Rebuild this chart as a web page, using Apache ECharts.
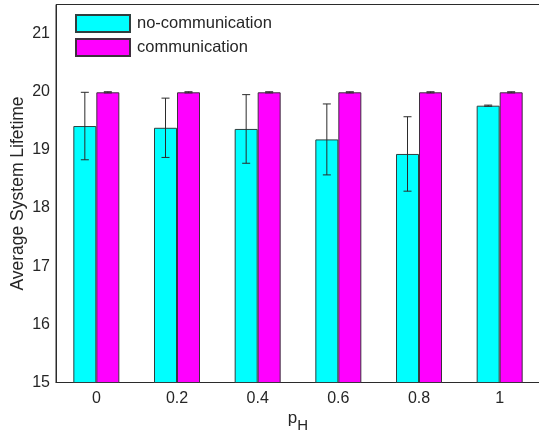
<!DOCTYPE html>
<html>
<head>
<meta charset="utf-8">
<script src="https://cdn.jsdelivr.net/npm/echarts@6/dist/echarts.min.js"></script>
<style>
html,body{margin:0;padding:0;background:#fff;}
#chart{width:539px;height:436px;}
</style>
</head>
<body>
<div id="chart"></div>
<script>
var categories = ['0', '0.2', '0.4', '0.6', '0.8', '1'];
var noCommMean = [19.41, 19.38, 19.36, 19.18, 18.93, 19.76];
var noCommErr  = [0.58, 0.51, 0.59, 0.61, 0.64, 0.01];
var commMean   = [19.99, 19.99, 19.99, 19.99, 19.99, 19.99];
var commErr    = [0.01, 0.01, 0.01, 0.01, 0.01, 0.01];
var seriesNames = ['no-communication', 'communication'];

var FONT = 'Arial, "Liberation Sans", Helvetica, sans-serif';
var TXT = '#262626';
var BAR_W = 23;

function errData(means, errs) {
  return means.map(function (m, i) { return [i, m, errs[i]]; });
}
function errRender(offset) {
  return function (params, api) {
    var i = api.value(0), m = api.value(1), e = api.value(2);
    var top = api.coord([i, m + e]);
    var bot = api.coord([i, m - e]);
    var x = top[0] + offset;
    var cap = 4;
    var st = { stroke: '#2b2b2b', lineWidth: 1 };
    return {
      type: 'group',
      children: [
        { type: 'line', shape: { x1: x, y1: top[1], x2: x, y2: bot[1] }, style: st },
        { type: 'line', shape: { x1: x - cap, y1: top[1], x2: x + cap, y2: top[1] }, style: st },
        { type: 'line', shape: { x1: x - cap, y1: bot[1], x2: x + cap, y2: bot[1] }, style: st }
      ]
    };
  };
}

var chart = echarts.init(document.getElementById('chart'), null, { renderer: 'canvas' });
chart.setOption({
  animation: false,
  backgroundColor: '#ffffff',
  textStyle: { fontFamily: FONT },
  grid: {
    left: 56, right: -1, top: 4.5, bottom: 53.5,
    outerBoundsMode: 'none',
    containLabel: false,
    show: true, borderColor: '#2b2b2b', borderWidth: 1, backgroundColor: 'transparent'
  },
  legend: {
    orient: 'vertical',
    left: 75, top: 14,
    padding: 0,
    itemWidth: 54, itemHeight: 17, itemGap: 5,
    icon: 'rect',
    data: seriesNames,
    textStyle: { fontFamily: FONT, fontSize: 16.5, color: TXT, padding: [0, 0, 0, 2] }
  },
  xAxis: {
    type: 'category',
    data: categories,
    axisTick: { show: false },
    axisLine: { lineStyle: { color: '#2b2b2b', width: 1 } },
    axisLabel: { fontFamily: FONT, fontSize: 16, color: TXT, margin: 8 },
    name: '{p|p}{s|H}',
    nameLocation: 'middle',
    nameGap: 27,
    nameMoveOverlap: false,
    nameTextStyle: {
      rich: {
        p: { fontFamily: FONT, fontSize: 17, color: TXT, padding: [0, 0, 8, 0] },
        s: { fontFamily: FONT, fontSize: 15, color: TXT, padding: [8, 0, 0, 0] }
      }
    }
  },
  yAxis: {
    type: 'value',
    min: 15, max: 21.5, interval: 1,
    splitLine: { show: false },
    axisTick: { show: false },
    axisLine: { show: true, lineStyle: { color: '#2b2b2b', width: 1 } },
    axisLabel: { fontFamily: FONT, fontSize: 16, color: TXT, margin: 6, showMaxLabel: false },
    name: 'Average System Lifetime',
    nameLocation: 'middle',
    nameGap: 29,
    nameMoveOverlap: false,
    nameTextStyle: { fontFamily: FONT, fontSize: 17.5, color: TXT }
  },
  series: [
    {
      name: seriesNames[0], type: 'bar', data: noCommMean,
      barWidth: BAR_W, barGap: '0%',
      itemStyle: { color: '#00ffff', borderColor: '#2f3f3f', borderWidth: 1 }
    },
    {
      name: seriesNames[1], type: 'bar', data: commMean,
      barWidth: BAR_W, barGap: '0%',
      itemStyle: { color: '#ff00ff', borderColor: '#3f2f3f', borderWidth: 1 }
    },
    {
      type: 'custom', name: 'err0', data: errData(noCommMean, noCommErr),
      renderItem: errRender(-BAR_W / 2), z: 10, silent: true
    },
    {
      type: 'custom', name: 'err1', data: errData(commMean, commErr),
      renderItem: errRender(BAR_W / 2), z: 10, silent: true
    }
  ]
});
</script>
</body>
</html>
